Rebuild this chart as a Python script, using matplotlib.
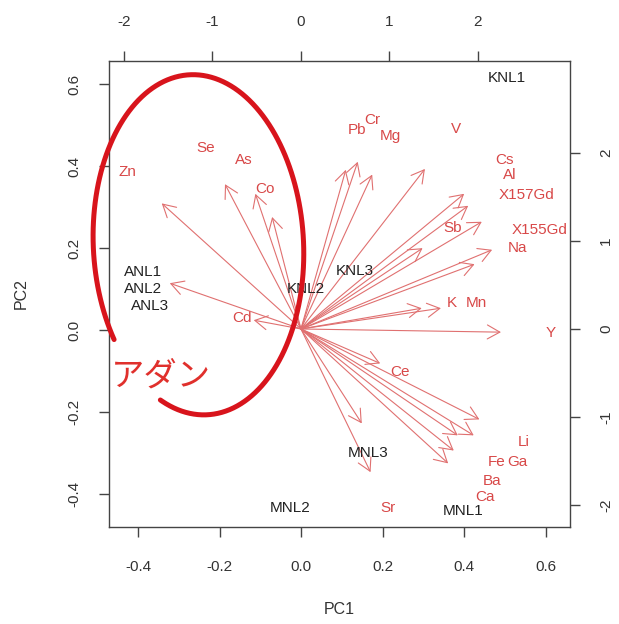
import numpy as np
import matplotlib.pyplot as plt

plt.rcParams['font.family'] = ['Liberation Sans', 'Noto Sans CJK JP', 'DejaVu Sans']

# sample scores, plotted on the bottom/left axes
samples = ['KNL1', 'KNL2', 'KNL3', 'ANL1', 'ANL2', 'ANL3', 'MNL1', 'MNL2', 'MNL3']
pc1 = [0.506, 0.012, 0.133, -0.388, -0.388, -0.371, 0.398, -0.027, 0.164]
pc2 = [0.615, 0.100, 0.144, 0.141, 0.100, 0.059, -0.441, -0.434, -0.300]

# element loadings, plotted on the top/right axes
elements = ['Zn', 'Se', 'As', 'Co', 'Cd', 'Ni', 'Cr', 'Pb', 'Mg', 'V', 'Cs', 'Al',
            'X157Gd', 'Sb', 'X155Gd', 'Na', 'K', 'Mn', 'Y', 'Ce', 'Cu', 'Sr',
            'Li', 'Fe', 'Ga', 'Ba', 'Ca']
load1 = [-1.966, -1.073, -0.644, -0.407, -0.667, -1.853, 0.802, 0.633, 1.006, 1.751,
         2.305, 2.362, 2.554, 1.718, 2.700, 2.452, 1.706, 1.977, 2.825, 1.119,
         0.859, 0.983, 2.520, 2.215, 2.440, 2.158, 2.079]
load2 = [1.784, 2.057, 1.920, 1.591, 0.125, 0.650, 2.375, 2.261, 2.193, 2.273,
         1.920, 1.750, 1.523, 1.148, 1.125, 0.920, 0.295, 0.295, -0.045, -0.489,
         -1.341, -2.034, -1.284, -1.511, -1.511, -1.727, -1.909]
# labels that sit underneath sample names and are not drawn
covered = {'Ni', 'Cu'}

bottom_ticks = [-0.4, -0.2, 0.0, 0.2, 0.4, 0.6]
left_ticks = [-0.4, -0.2, 0.0, 0.2, 0.4, 0.6]
top_ticks = [-2, -1, 0, 1, 2]
right_ticks = [-2, -1, 0, 1, 2]

red = '#d84848'
arrow_red = '#e07070'
ink = '#222222'

fig = plt.figure(figsize=(6.19, 6.24), dpi=100)
pos = [109 / 619, 1 - 527 / 624, (570 - 109) / 619, (527 - 61) / 624]
ax = fig.add_axes(pos)
ax.set_xlim(-0.4715, 0.660)
ax.set_ylim(-0.480, 0.656)

ax2 = fig.add_axes(pos, frameon=False)
ax2.set_xlim(-2.169, 3.040)
ax2.set_ylim(-2.250, 3.045)
ax2.patch.set_visible(False)

for s in ax.spines.values():
    s.set_color('#444444')
    s.set_linewidth(1.0)

ax.set_xticks(bottom_ticks)
ax.set_xticklabels(['%.1f' % v for v in bottom_ticks])
ax.set_yticks(left_ticks)
ax.set_yticklabels(['%.1f' % v for v in left_ticks], rotation=90, va='center')
ax.tick_params(direction='out', length=7, width=1, colors='#444444',
               labelcolor='#333333', labelsize=11)
ax.tick_params(axis='x', pad=17)
ax.tick_params(axis='y', pad=13)

ax2.xaxis.tick_top()
ax2.yaxis.tick_right()
ax2.set_xticks(top_ticks)
ax2.set_xticklabels([str(v) for v in top_ticks])
ax2.set_yticks(right_ticks)
ax2.set_yticklabels([str(v) for v in right_ticks], rotation=90, va='center')
ax2.tick_params(direction='out', length=7, width=1, colors='#444444',
                labelcolor='#333333', labelsize=11)
ax2.tick_params(axis='x', pad=16)
ax2.tick_params(axis='y', pad=14)

ax.set_xlabel('PC1', fontsize=11.5, color='#333333', labelpad=20)
ax.set_ylabel('PC2', fontsize=11.5, color='#333333', labelpad=28)

# arrows run to 80% of each label position, like R's biplot
for name, x, y in zip(elements, load1, load2):
    ax2.annotate('', xy=(0.8 * x, 0.8 * y), xytext=(0, 0),
                 arrowprops=dict(arrowstyle='->,head_length=0.5,head_width=0.28',
                                 color=arrow_red, lw=0.8, shrinkA=0, shrinkB=0,
                                 mutation_scale=18))
    if name not in covered:
        ax2.text(x, y, name, color=red, fontsize=11, ha='center', va='center', zorder=3)

for name, x, y in zip(samples, pc1, pc2):
    ax2.text(x, y, name, color=ink, fontsize=11, ha='center', va='center',
             transform=ax.transData, zorder=4)

# hand-drawn loop around the ANL group
t = np.radians(np.linspace(212, -116, 300))
a, b, rot = 0.258, 0.415, np.radians(3)
ex = a * np.cos(t)
ey = b * np.sin(t)
lx = -0.252 + ex * np.cos(rot) - ey * np.sin(rot)
ly = 0.208 + ex * np.sin(rot) + ey * np.cos(rot)
ax2.plot(lx, ly, color='#d8141c', lw=3.6, transform=ax.transData,
         clip_on=False, zorder=6, solid_capstyle='round')
ax2.text(-0.345, -0.115, 'アダン', color='#e0302c', fontsize=24,
         ha='center', va='center', transform=ax.transData, zorder=6)

fig.savefig('out.png', dpi=100)
